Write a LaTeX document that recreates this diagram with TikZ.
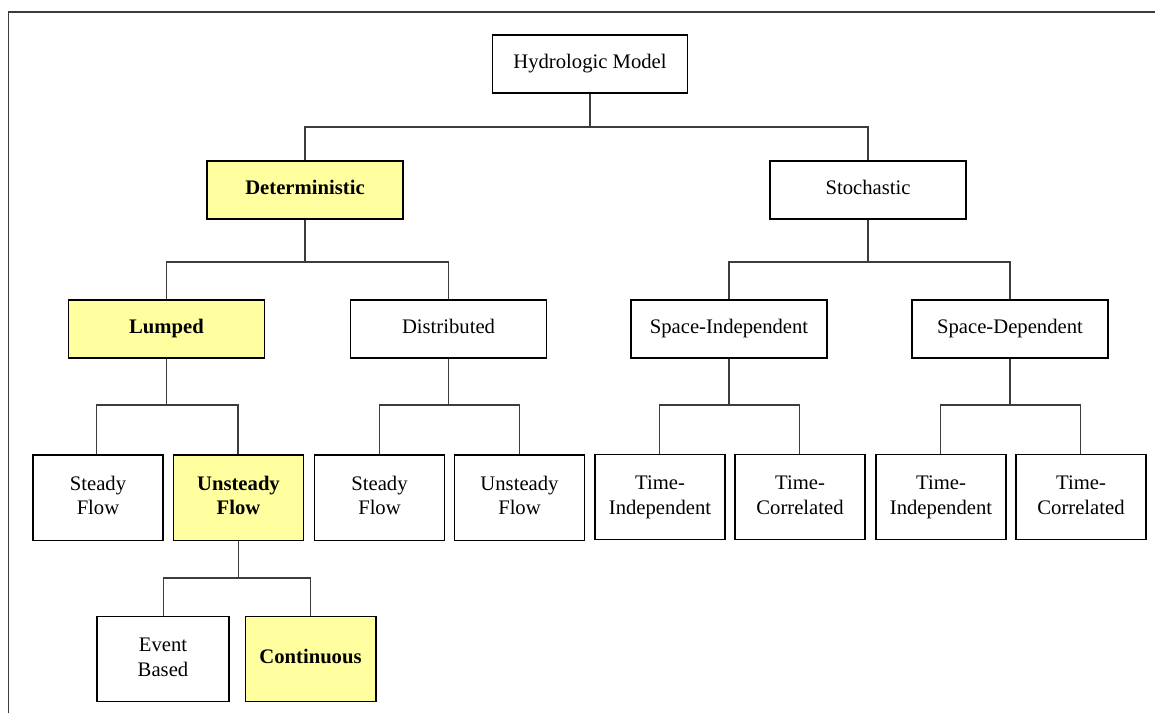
\documentclass[tikz,border=0pt]{standalone}
\usepackage{fontspec}
\setmainfont{Liberation Serif}
\definecolor{boxyellow}{RGB}{255,255,160}
\definecolor{linegray}{RGB}{60,60,60}
\newcommand{\lifttext}[1]{\raisebox{3pt}{\begin{tabular}{@{}c@{}}#1\end{tabular}}}
\begin{document}
\begin{tikzpicture}[x=0.75pt,y=-0.75pt,
  box/.style={draw=black,line width=1pt,fill=white,inner sep=0pt,
    font=\fontsize{15.5}{18.5}\selectfont},
  wide/.style={box,minimum width=147pt,minimum height=43.5pt},
  small/.style={box,minimum width=97.5pt,minimum height=64pt},
  hl/.style={fill=boxyellow,font=\fontsize{15.5}{18.5}\selectfont\bfseries},
  conn/.style={draw=linegray,line width=1pt}]
\useasboundingbox (0,0) rectangle (1155,713);
\draw[linegray,line width=0.9pt] (8.5,713) -- (8.5,12) -- (1155,12);
% nodes
\node[wide,minimum width=146pt] (hm) at (590,64) {\lifttext{Hydrologic Model}};
\node[wide,hl] (det) at (305,190) {\lifttext{Deterministic}};
\node[wide] (sto) at (868,190) {\lifttext{Stochastic}};
\node[wide,hl] (lum) at (166.5,329) {\lifttext{Lumped}};
\node[wide] (dis) at (448.5,329) {\lifttext{Distributed}};
\node[wide] (si) at (729,329) {\lifttext{Space-Independent}};
\node[wide] (sd) at (1010,329) {\lifttext{Space-Dependent}};
\node[small] (sf1) at (98,497.5) {\lifttext{Steady\\Flow}};
\node[small,hl] (uf1) at (238.5,497.5) {\lifttext{Unsteady\\Flow}};
\node[small] (sf2) at (379.5,497.5) {\lifttext{Steady\\Flow}};
\node[small] (uf2) at (519.5,497.5) {\lifttext{Unsteady\\Flow}};
\node[small] (ti1) at (660,497) {\lifttext{Time-\\Independent}};
\node[small] (tc1) at (800,497) {\lifttext{Time-\\Correlated}};
\node[small] (ti2) at (941,497) {\lifttext{Time-\\Independent}};
\node[small] (tc2) at (1081,497) {\lifttext{Time-\\Correlated}};
\node[small,minimum width=99pt] (eb) at (163,659) {\lifttext{Event\\Based}};
\node[small,minimum width=98pt,hl] (co) at (310.5,659) {\lifttext{Continuous}};
% bar coordinates
\coordinate (b1) at (0,127);
\coordinate (b2) at (0,262);
\coordinate (b3) at (0,405);
\coordinate (b4) at (0,578);
% connectors
\draw[conn] (hm.south) -- (hm.south |- b1);
\draw[conn] (det.north) |- (hm.south |- b1) -| (sto.north);
\draw[conn] (det.south) -- (det.south |- b2);
\draw[conn] (lum.north) |- (det.south |- b2) -| (dis.north);
\draw[conn] (sto.south) -- (sto.south |- b2);
\draw[conn] (si.north) |- (sto.south |- b2) -| (sd.north);
\draw[conn] (lum.south) -- (lum.south |- b3);
\draw[conn] ([xshift=-52.5pt]lum.south |- sf1.north) |- (lum.south |- b3) -| ([xshift=53.5pt]lum.south |- uf1.north);
\draw[conn] (dis.south) -- (dis.south |- b3);
\draw[conn] ([xshift=-52pt]dis.south |- sf2.north) |- (dis.south |- b3) -| ([xshift=53pt]dis.south |- uf2.north);
\draw[conn] (si.south) -- (si.south |- b3);
\draw[conn] ([xshift=-52pt]si.south |- ti1.north) |- (si.south |- b3) -| ([xshift=53pt]si.south |- tc1.north);
\draw[conn] (sd.south) -- (sd.south |- b3);
\draw[conn] ([xshift=-52pt]sd.south |- ti2.north) |- (sd.south |- b3) -| ([xshift=53pt]sd.south |- tc2.north);
\draw[conn] (uf1.south) -- (uf1.south |- b4);
\draw[conn] ([xshift=-56.5pt]uf1.south |- eb.north) |- (uf1.south |- b4) -| ([xshift=54pt]uf1.south |- co.north);
\end{tikzpicture}
\end{document}
